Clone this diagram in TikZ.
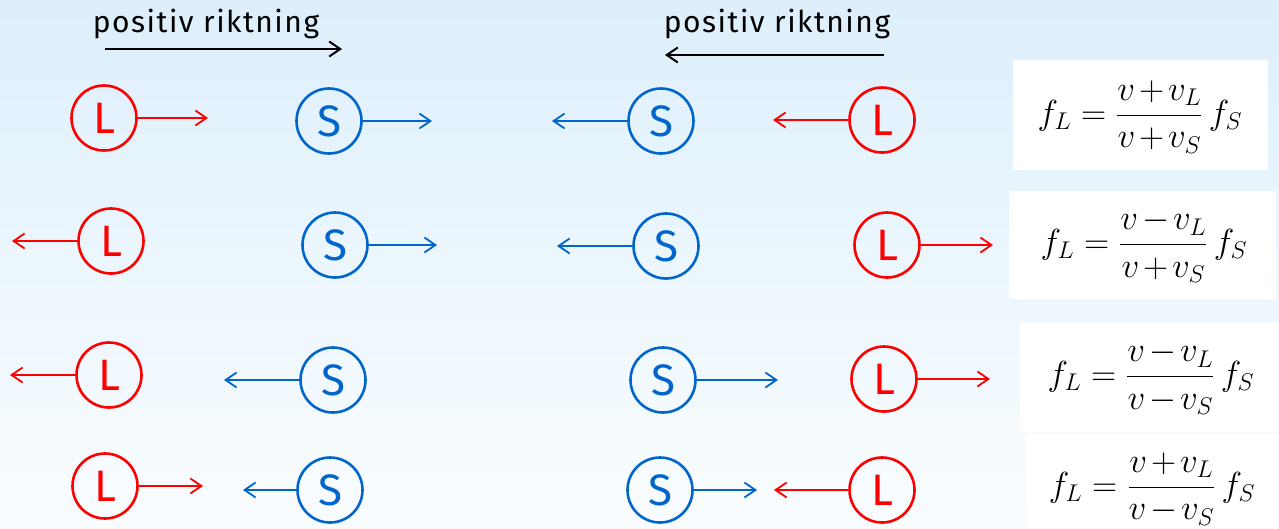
\documentclass[tikz,border=0pt]{standalone}
\usepackage{amsmath}
\usepackage{graphicx}
\usepackage{fontspec}
\setmainfont{Fira Sans}
\newfontfamily\dirfont{Fira Sans}[LetterSpace=5]
\usetikzlibrary{arrows.meta}
\definecolor{rd}{RGB}{255,0,0}
\definecolor{bl}{RGB}{0,102,204}
\definecolor{bgtop}{RGB}{221,239,251}
\definecolor{bgbot}{RGB}{250,253,255}
\newcommand{\bigfml}[1]{\scalebox{1.4}{\fontsize{24}{29}\selectfont\medmuskip=2mu plus 1mu minus 1mu$#1$}}
\tikzset{
  obj/.style={circle, draw, line width=2.6pt, minimum size=65pt, inner sep=0pt, font=\fontsize{44}{44}\selectfont},
  lis/.style={obj, draw=rd, text=rd},
  src/.style={obj, draw=bl, text=bl},
  mv/.style={line width=1.8pt, -{Straight Barb[length=11pt,width=15pt,line width=1.8pt]}},
  lmv/.style={mv, draw=rd},
  smv/.style={mv, draw=bl},
  dirtext/.style={font=\dirfont\fontsize{30}{34}\selectfont},
  diar/.style={line width=2pt, -{Straight Barb[length=11pt,width=15pt,line width=2pt]}},
  fml/.style={inner sep=0pt}
}
\begin{document}
\begin{tikzpicture}[x=1pt,y=-1pt]
\useasboundingbox (0,0) rectangle (1279,528);
\shade[top color=bgtop, bottom color=bgbot] (0,0) rectangle (1279,528);
% formula boxes
\fill[white] (1013,60) rectangle (1268,170);
\fill[white] (1009,191) rectangle (1276,299);
\fill[white] (1020,323) rectangle (1279,432);
\fill[white] (1026,434) rectangle (1279,528);
% direction labels
\node[dirtext] (t1) at (206,24) {positiv riktning};
\coordinate (a1s) at (105,49);
\coordinate (a1e) at (342,49);
\draw[diar] (a1s) -- (a1e);
\node[dirtext] (t2) at (777,24) {positiv riktning};
\coordinate (a2s) at (884,55);
\coordinate (a2e) at (665,55);
\draw[diar] (a2s) -- (a2e);
% row 1
\node[lis] (L1) at (104,118) {L};
\node[src] (S1) at (329,121) {S};
\node[src] (S2) at (661,121) {S};
\node[lis] (L2) at (882,120) {L};
\coordinate (e1) at (208,118);
\coordinate (e2) at (432,121);
\coordinate (e3) at (552,121);
\coordinate (e4) at (773,120);
\draw[lmv] (L1) -- (e1);
\draw[smv] (S1) -- (e2);
\draw[smv] (S2) -- (e3);
\draw[lmv] (L2) -- (e4);
% row 2
\node[lis] (L3) at (111,241) {L};
\node[src] (S3) at (335,245) {S};
\node[src] (S4) at (666,246) {S};
\node[lis] (L4) at (887,245) {L};
\coordinate (f1) at (12,241);
\coordinate (f2) at (437,245);
\coordinate (f3) at (557,246);
\coordinate (f4) at (993,245);
\draw[lmv] (L3) -- (f1);
\draw[smv] (S3) -- (f2);
\draw[smv] (S4) -- (f3);
\draw[lmv] (L4) -- (f4);
% row 3
\node[lis] (L5) at (109,375) {L};
\node[src] (S5) at (333,380) {S};
\node[src] (S6) at (663,380) {S};
\node[lis] (L6) at (884,379) {L};
\coordinate (g1) at (10,375);
\coordinate (g2) at (224,380);
\coordinate (g3) at (778,380);
\coordinate (g4) at (990,379);
\draw[lmv] (L5) -- (g1);
\draw[smv] (S5) -- (g2);
\draw[smv] (S6) -- (g3);
\draw[lmv] (L6) -- (g4);
% row 4
\node[lis] (L7) at (105,486) {L};
\node[src] (S7) at (330,490) {S};
\node[src] (S8) at (660,490) {S};
\node[lis] (L8) at (882,490) {L};
\coordinate (h1) at (203,486);
\coordinate (h2) at (243,490);
\coordinate (h3) at (757,490);
\coordinate (h4) at (774,490);
\draw[lmv] (L7) -- (h1);
\draw[smv] (S7) -- (h2);
\draw[smv] (S8) -- (h3);
\draw[lmv] (L8) -- (h4);
% formulas
\node[fml] (F1) at (1140,117) {\bigfml{f_L=\dfrac{v+v_L}{v+v_S}\,f_S}};
\node[fml] (F2) at (1144,246) {\bigfml{f_L=\dfrac{v-v_L}{v+v_S}\,f_S}};
\node[fml] (F3) at (1151,378) {\bigfml{f_L=\dfrac{v-v_L}{v-v_S}\,f_S}};
\node[fml] (F4) at (1152,489) {\bigfml{f_L=\dfrac{v+v_L}{v-v_S}\,f_S}};
\end{tikzpicture}
\end{document}
